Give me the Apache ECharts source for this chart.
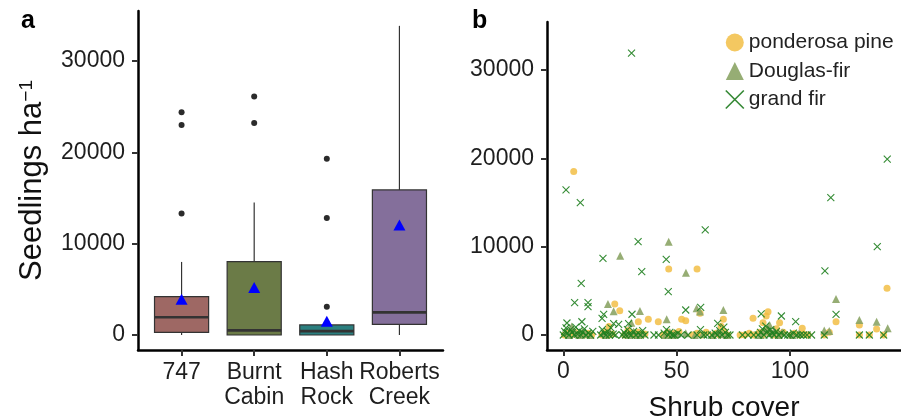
<!DOCTYPE html>
<html>
<head>
<meta charset="utf-8">
<script src="https://cdn.jsdelivr.net/npm/echarts@6/dist/echarts.min.js"></script>
<style>
  html, body { margin: 0; padding: 0; background: #fff; }
  #chart { width: 901px; height: 416px; }
</style>
</head>
<body>
<div id="chart"></div>
<script>
// panel a: seedlings per site
const sites = ['747', 'Burnt\nCabin', 'Hash\nRock', 'Roberts\nCreek']
const sitePos = [1, 2, 3, 4]
const boxMin = [0, 0, 0, 0]
const boxQ1 = [290, 0, 0, 1170]
const boxMedian = [1940, 510, 420, 2480]
const boxQ3 = [4200, 8030, 1100, 15880]
const boxMax = [8000, 14500, 1700, 33850]
const siteMeans = [3910, 5200, 1500, 12050]
const boxColors = ['#9E6864', '#6B7B47', '#2B7F7F', '#846F9B']
const outliers = [[1, 24400], [1, 23000], [1, 13300], [2, 26100], [2, 23200], [3, 19300], [3, 12800], [3, 3100]]
const yTicks = [0, 10000, 20000, 30000]

// panel b: seedlings vs shrub cover
const xTicks = [0, 50, 100]
const pinePoints = [
    [4.6, 18500], [46.5, 7470], [59, 7470], [142.8, 5290], [22.7, 3510], [24.9, 2750], [33.1, 1510], [37.5, 1780],
    [41.9, 1510], [52.2, 1780], [54, 1620], [60.3, 2460], [70.6, 1780], [83.7, 1890], [90.3, 2640], [89.5, 2150],
    [88.1, 1400], [95.4, 1400], [120.3, 1510], [130.6, 1130], [138.2, 680], [20.1, 950], [105.4, 760], [69.6, 1000],
    [0.5, 0], [2, 200], [3.5, 0], [5, 300], [6.5, 0], [8, 100], [9.5, 0], [11, 200], [12.5, 0],
    [17, 0], [18.5, 300], [20, 0], [21.5, 100],
    [27, 0], [28.5, 500], [30, 200], [31.5, 0], [33, 300], [34.5, 0], [36, 100],
    [44, 0], [46, 300], [47.5, 0], [49, 200], [51, 400],
    [57, 0], [59, 200], [61, 0], [63, 300],
    [66, 0], [67.5, 200], [69, 0], [71, 400], [72.5, 0],
    [78, 0], [80, 0], [82, 200], [84, 0],
    [86.5, 300], [88, 0], [89.5, 500], [91, 200], [92.5, 0], [94, 700], [95.5, 0], [97, 300],
    [100.5, 0], [102, 200], [104, 0], [106, 100], [108, 0],
    [115.1, 0], [117.3, 300], [130.6, 0], [135, 0], [141.3, 0],
]
const douglasPoints = [
    [46.5, 10570], [25.1, 8980], [54.1, 7060], [19.7, 3510], [22.2, 2700], [33.8, 2720], [70.6, 2830], [58.8, 3020],
    [60.3, 2650], [45.6, 1780], [120.3, 4080], [130.6, 1700], [138.2, 1510], [143.1, 760], [115.1, 500], [117.3, 450],
    [30, 1400], [3.7, 950], [91, 1130],
    [1, 300], [2.5, 0], [4, 600], [5.5, 200], [7, 0], [8.5, 400], [10, 100], [12, 0],
    [17.5, 200], [19, 0], [20.5, 300],
    [27.5, 100], [29, 0], [31, 400], [33, 0], [35, 200],
    [45, 0], [47, 300], [48.5, 0], [50, 100],
    [54, 200], [58, 0], [61.5, 100],
    [66, 0], [68, 300], [70, 100], [72, 0],
    [87, 0], [88.5, 400], [90, 800], [91.5, 200], [93, 500], [95, 0], [96.5, 300],
    [101, 0], [104, 200],
]
const grandFirPoints = [
    [30.1, 31900], [142.9, 19900], [1.2, 16420], [7.5, 14980], [118, 15550], [62.6, 11900], [33, 10570], [138.5, 10000],
    [17.5, 8680], [45.4, 8570], [34.6, 7170], [115.4, 7250], [7.9, 5850], [46.3, 4900], [5, 3660], [10.9, 3660],
    [10.9, 3200], [17.8, 2340], [17.1, 1890], [8.2, 1500], [1.6, 1360], [22.2, 1300], [24.4, 1200], [28.8, 1300],
    [30.3, 2350], [54, 2830], [60.6, 3140], [68.1, 1320], [87.3, 2380], [96.2, 2150], [102.5, 1510], [120.3, 2340],
    [0, 0], [0.6, 400], [1.2, 800], [1.8, 200], [2.5, 0], [3.2, 600], [4, 300], [4.8, 0], [5.5, 900], [6.3, 100],
    [7, 500], [7.8, 0], [8.5, 300], [9.3, 700], [10, 0], [11, 200], [12, 0], [13, 400],
    [16.5, 0], [17.2, 600], [18, 200], [18.8, 0], [19.5, 400], [20.3, 0], [21, 800], [22, 100], [23, 0],
    [26, 0], [26.8, 300], [27.5, 0], [28.3, 600], [29, 100], [30, 0], [31, 400], [32, 0], [33, 200], [34, 0], [35, 500], [36, 0],
    [40, 0], [42, 0], [44.5, 200], [45.5, 600], [46.3, 0], [47, 300], [48, 0], [49, 0], [50.5, 200], [52, 0],
    [55, 0], [59, 0], [60.5, 600], [62, 0], [63.5, 0],
    [65.5, 0], [67, 200], [68, 0], [69, 500], [70, 0], [70.8, 900], [71.5, 300], [72.5, 0], [73.5, 0],
    [79, 0], [81.5, 0], [84, 0],
    [86, 0], [87, 300], [87.8, 700], [88.5, 0], [89.3, 1000], [90, 400], [90.8, 0], [91.5, 600], [92.3, 200], [93, 0],
    [94, 400], [95, 0], [96, 200], [97.5, 0], [99, 0],
    [100, 0], [101.5, 200], [103, 0], [104.5, 0], [106, 0], [107.5, 0], [109.5, 0],
    [115.1, 0], [130.6, 0], [135, 0], [141.3, 0],
]

const FONT = 'Liberation Sans, Arial, sans-serif'
const crossPath = 'path://M0,0L10,10M10,0L0,10'

let chart = echarts.init(document.getElementById('chart'))

// box, whiskers and thick median (ggplot style, no whisker caps)
function renderBox(params, api) {
    const x = api.value(0)
    const pLo = api.coord([x, api.value(1)])
    const pQ1 = api.coord([x, api.value(2)])
    const pMed = api.coord([x, api.value(3)])
    const pQ3 = api.coord([x, api.value(4)])
    const pHi = api.coord([x, api.value(5)])
    const half = api.size([0.745, 0])[0] / 2
    const line = { stroke: '#333', lineWidth: 1.2 }
    return {
        type: 'group',
        children: [
            { type: 'line', shape: { x1: pLo[0], y1: pLo[1], x2: pQ1[0], y2: pQ1[1] }, style: line },
            { type: 'line', shape: { x1: pQ3[0], y1: pQ3[1], x2: pHi[0], y2: pHi[1] }, style: line },
            {
                type: 'rect',
                shape: { x: pQ3[0] - half, y: pQ3[1], width: half * 2, height: pQ1[1] - pQ3[1] },
                style: { fill: boxColors[params.dataIndex], stroke: '#333', lineWidth: 1.2 },
            },
            { type: 'line', shape: { x1: pMed[0] - half, y1: pMed[1], x2: pMed[0] + half, y2: pMed[1] }, style: { stroke: '#333', lineWidth: 2.6 } },
        ],
    }
}

const boxData = sitePos.map((p, i) => [p, boxMin[i], boxQ1[i], boxMedian[i], boxQ3[i], boxMax[i]])
const meanData = sitePos.map((p, i) => [p, siteMeans[i]])

const axisLine = { onZero: false, lineStyle: { color: '#000', width: 2.5 } }
const tickStyle = { color: '#333', width: 2 }
const labelStyle = { fontFamily: FONT, fontSize: 23, color: '#1e1e1e' }
const plainNumber = (v) => String(v)

let option = {
    animation: false,
    textStyle: { fontFamily: FONT },
    title: [
        { text: 'a', left: 21, top: 9, padding: 0, textStyle: { fontFamily: FONT, fontSize: 25, fontWeight: 'bold', color: '#000' } },
        { text: 'b', left: 472, top: 9, padding: 0, textStyle: { fontFamily: FONT, fontSize: 25, fontWeight: 'bold', color: '#000' } },
    ],
    legend: {
        orient: 'vertical',
        left: 720,
        top: 27,
        itemWidth: 18,
        itemHeight: 18,
        itemGap: 7.5,
        textStyle: { fontFamily: FONT, fontSize: 21, color: '#222' },
        data: [
            { name: 'ponderosa pine', icon: 'circle' },
            { name: 'Douglas-fir', icon: 'triangle' },
            { name: 'grand fir', icon: crossPath, itemStyle: { color: 'transparent', borderColor: '#1E7B1E', borderWidth: 1.6 } },
        ],
    },
    grid: [
        { left: 138, top: 11, width: 305, height: 339, outerBoundsMode: 'none' },
        { left: 547, top: 22, width: 354, height: 328, outerBoundsMode: 'none' },
    ],
    xAxis: [
        {
            gridIndex: 0,
            type: 'value',
            min: 0.4,
            max: 4.6,
            axisLine: axisLine,
            axisTick: { customValues: sitePos, length: 6, lineStyle: tickStyle },
            axisLabel: Object.assign({ customValues: sitePos, formatter: (v) => sites[Math.round(v) - 1], lineHeight: 25, margin: 10 }, labelStyle),
            splitLine: { show: false },
        },
        {
            gridIndex: 1,
            type: 'value',
            min: -7.19,
            max: 148.96,
            axisLine: axisLine,
            axisTick: { customValues: xTicks, length: 6, lineStyle: tickStyle },
            axisLabel: Object.assign({ customValues: xTicks, formatter: plainNumber, margin: 10 }, labelStyle),
            splitLine: { show: false },
            name: 'Shrub cover',
            nameLocation: 'middle',
            nameGap: 44,
            nameTextStyle: { fontFamily: FONT, fontSize: 28, color: '#111' },
        },
    ],
    yAxis: [
        {
            gridIndex: 0,
            type: 'value',
            min: -1642,
            max: 35475,
            axisLine: axisLine,
            axisTick: { customValues: yTicks, length: 6, lineStyle: tickStyle },
            axisLabel: Object.assign({ customValues: yTicks, formatter: plainNumber, margin: 13 }, labelStyle),
            splitLine: { show: false },
            name: 'Seedlings ha{sup|−1}',
            nameLocation: 'middle',
            nameGap: 90,
            nameTextStyle: {
                fontFamily: FONT,
                fontSize: 31,
                color: '#111',
                rich: { sup: { fontFamily: FONT, fontSize: 19, color: '#111', verticalAlign: 'top' } },
            },
        },
        {
            gridIndex: 1,
            type: 'value',
            min: -1698,
            max: 35434,
            axisLine: axisLine,
            axisTick: { customValues: yTicks, length: 6, lineStyle: tickStyle },
            axisLabel: Object.assign({ customValues: yTicks, formatter: plainNumber, margin: 13 }, labelStyle),
            splitLine: { show: false },
        },
    ],
    series: [
        { type: 'custom', xAxisIndex: 0, yAxisIndex: 0, renderItem: renderBox, data: boxData, z: 2 },
        {
            type: 'scatter', xAxisIndex: 0, yAxisIndex: 0, data: outliers,
            symbol: 'circle', symbolSize: 6, itemStyle: { color: '#2b2b2b', opacity: 1 }, z: 3,
        },
        {
            type: 'scatter', xAxisIndex: 0, yAxisIndex: 0, data: meanData,
            symbol: 'triangle', symbolSize: [12, 11], itemStyle: { color: '#0000FF', opacity: 1 }, z: 4,
        },
        {
            name: 'ponderosa pine', type: 'scatter', xAxisIndex: 1, yAxisIndex: 1, data: pinePoints,
            symbol: 'circle', symbolSize: 7, itemStyle: { color: '#F2BE45', opacity: 0.85 },
        },
        {
            name: 'Douglas-fir', type: 'scatter', xAxisIndex: 1, yAxisIndex: 1, data: douglasPoints,
            symbol: 'triangle', symbolSize: 8, itemStyle: { color: '#8BA465', opacity: 0.9 },
        },
        {
            name: 'grand fir', type: 'scatter', xAxisIndex: 1, yAxisIndex: 1, data: grandFirPoints,
            symbol: crossPath, symbolSize: 7,
            itemStyle: { color: 'transparent', borderColor: '#1F7F1F', borderWidth: 1.1, opacity: 0.9 },
        },
    ],
}
chart.setOption(option)
</script>
</body>
</html>
